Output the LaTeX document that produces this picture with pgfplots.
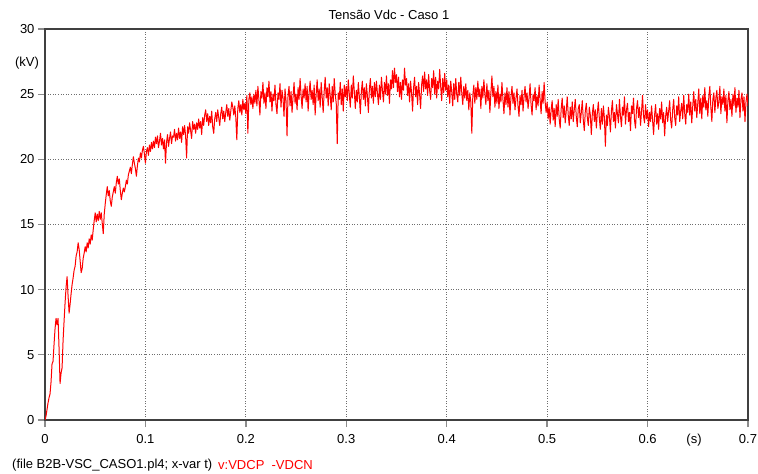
\documentclass[border=0pt]{standalone}
\usepackage{fontspec}
\setmainfont{Liberation Sans}
\usepackage{pgfplots}
\pgfplotsset{compat=1.18}

\definecolor{axisgray}{RGB}{64,64,64}
\definecolor{tickgray}{RGB}{140,140,140}
\definecolor{gridgray}{RGB}{110,110,110}

\begin{document}
\begin{tikzpicture}[font=\fontsize{13}{15}\selectfont]
\path[use as bounding box] (0,0) rectangle (758pt,474pt);

\begin{axis}[
    at={(45pt,54pt)}, anchor=south west,
    scale only axis, width=703pt, height=391pt,
    xmin=0, xmax=700, ymin=0, ymax=30,
    enlargelimits=false,
    xtick={0,100,...,700},
    xticklabels={0,0.1,0.2,0.3,0.4,0.5,0.6,0.7},
    ytick={0,5,...,30},
    /pgf/number format/assume math mode=true,
    tick pos=left, tick align=outside,
    major tick length=7pt,
    tick style={draw=tickgray, line width=1.3pt},
    axis line style={draw=axisgray, line width=1.1pt},
    grid=major,
    major grid style={draw=gridgray, line width=0.8pt, dash pattern=on 1pt off 1.6pt},
    ticklabel style={font=\fontsize{13}{15}\selectfont},
    xticklabel style={yshift=-4pt},
]
\addplot[color=red, line width=1pt, line join=round] table[row sep=\\] {
t v\\
0 0\\ 1 0.3\\ 2 0.8\\ 3 1.3\\ 4 1.7\\ 5 2.0\\ 6 2.9\\ 7 4.3\\ 8 4.5\\ 9 5.8\\
10 7.0\\ 11 7.8\\ 12 7.3\\ 13 7.8\\ 14 5.5\\ 15 2.8\\ 16 3.6\\ 17 4.0\\ 18 6.1\\ 19 7.6\\
20 9.0\\ 21 10.2\\ 22 11.0\\ 23 9.5\\ 24 8.2\\ 25 8.9\\ 26 9.7\\ 27 10.4\\ 28 10.9\\ 29 11.5\\
30 11.8\\ 31 12.6\\ 32 12.9\\ 33 13.6\\ 34 13.1\\ 35 12.2\\ 36 11.3\\ 37 11.6\\ 38 12.4\\ 39 12.8\\
40 13.3\\ 41 12.9\\ 42 13.6\\ 43 13.2\\ 44 13.9\\ 45 13.5\\ 46 14.2\\ 47 13.8\\ 48 14.6\\ 49 15.3\\
50 15.9\\ 51 15.2\\ 52 15.8\\ 53 15.3\\ 54 16.0\\ 55 15.4\\ 56 15.9\\ 57 15.1\\ 58 14.3\\ 59 15.8\\
60 16.6\\ 61 17.3\\ 62 17.9\\ 63 17.2\\ 64 17.6\\ 65 16.8\\ 66 16.4\\ 67 17.1\\ 68 17.5\\ 69 17.9\\
70 17.4\\ 71 18.2\\ 72 18.7\\ 73 18.1\\ 74 18.5\\ 75 17.6\\ 76 16.9\\ 77 17.4\\ 78 17.8\\ 79 17.5\\
80 17.9\\ 81 18.4\\ 82 18.1\\ 83 18.8\\ 84 19.1\\ 85 19.4\\ 86 18.9\\ 87 19.6\\ 88 20.2\\ 89 19.7\\
90 19.3\\ 91 18.7\\ 92 19.5\\ 93 20.1\\ 94 19.8\\ 95 20.5\\ 96 20.1\\ 97 20.7\\ 98 21.0\\ 99 20.4\\
100 19.7\\ 101 20.6\\ 102 20.9\\ 103 20.3\\ 104 21.1\\ 105 20.6\\ 106 21.3\\ 107 20.8\\ 108 21.4\\ 109 20.9\\
110 21.7\\ 111 21.2\\ 112 21.8\\ 113 20.9\\ 114 21.4\\ 115 22.0\\ 116 21.1\\ 117 21.6\\ 118 20.8\\ 119 21.5\\
120 19.7\\ 121 21.3\\ 122 21.9\\ 123 21.0\\ 124 21.6\\ 125 22.1\\ 126 21.2\\ 127 21.8\\ 128 21.7\\ 129 22.3\\
130 21.4\\ 131 22.0\\ 132 21.5\\ 133 22.4\\ 134 21.6\\ 135 22.1\\ 136 21.3\\ 137 22.5\\ 138 21.9\\ 139 22.6\\
140 21.8\\ 141 20.1\\ 142 22.5\\ 143 22.0\\ 144 22.8\\ 145 22.2\\ 146 21.6\\ 147 22.9\\ 148 22.3\\ 149 22.7\\
150 22.0\\ 151 22.8\\ 152 22.3\\ 153 23.1\\ 154 22.4\\ 155 22.9\\ 156 21.9\\ 157 23.2\\ 158 22.6\\ 159 23.4\\
160 23.8\\ 161 22.9\\ 162 23.5\\ 163 22.6\\ 164 23.3\\ 165 22.8\\ 166 23.7\\ 167 22.5\\ 168 22.0\\ 169 23.1\\
170 23.6\\ 171 22.9\\ 172 23.8\\ 173 23.2\\ 174 22.6\\ 175 23.5\\ 176 24.0\\ 177 23.1\\ 178 23.7\\ 179 22.9\\
180 23.6\\ 181 24.2\\ 182 23.3\\ 183 23.9\\ 184 23.0\\ 185 23.7\\ 186 24.4\\ 187 24.0\\ 188 23.4\\ 189 24.1\\
190 23.2\\ 191 21.5\\ 192 23.9\\ 193 24.5\\ 194 23.6\\ 195 24.2\\ 196 23.4\\ 197 24.6\\ 198 23.8\\ 199 24.3\\
200 23.5\\ 201 24.9\\ 202 22.0\\ 203 24.6\\ 204 25.1\\ 205 24.2\\ 206 24.8\\ 207 23.9\\ 208 25.0\\ 209 24.3\\
210 25.3\\ 211 24.1\\ 212 25.6\\ 213 24.6\\ 214 23.4\\ 215 25.2\\ 216 24.7\\ 217 25.9\\ 218 24.3\\ 219 25.1\\
220 23.9\\ 221 25.5\\ 222 24.8\\ 223 26.0\\ 224 24.4\\ 225 25.2\\ 226 23.7\\ 227 25.0\\ 228 24.5\\ 229 25.7\\
230 24.2\\ 231 23.5\\ 232 25.1\\ 233 24.6\\ 234 25.8\\ 235 24.0\\ 236 25.3\\ 237 24.7\\ 238 23.3\\ 239 25.4\\
240 24.5\\ 241 21.8\\ 242 24.9\\ 243 25.6\\ 244 24.1\\ 245 25.2\\ 246 23.6\\ 247 24.8\\ 248 25.9\\ 249 24.3\\
250 25.0\\ 251 23.8\\ 252 25.5\\ 253 24.6\\ 254 26.2\\ 255 24.9\\ 256 23.9\\ 257 25.4\\ 258 24.7\\ 259 25.8\\
260 24.4\\ 261 25.6\\ 262 23.7\\ 263 25.1\\ 264 26.0\\ 265 24.6\\ 266 25.3\\ 267 24.2\\ 268 25.7\\ 269 23.4\\
270 25.0\\ 271 26.1\\ 272 24.5\\ 273 25.4\\ 274 24.0\\ 275 25.9\\ 276 24.8\\ 277 23.6\\ 278 25.2\\ 279 26.3\\
280 24.7\\ 281 25.5\\ 282 24.1\\ 283 25.8\\ 284 24.9\\ 285 23.8\\ 286 25.6\\ 287 24.4\\ 288 26.2\\ 289 25.0\\
290 24.3\\ 291 21.2\\ 292 25.1\\ 293 24.6\\ 294 25.9\\ 295 24.2\\ 296 25.4\\ 297 23.7\\ 298 25.7\\ 299 24.8\\
300 25.6\\ 301 24.5\\ 302 26.1\\ 303 25.0\\ 304 24.0\\ 305 25.7\\ 306 24.7\\ 307 26.4\\ 308 25.2\\ 309 23.9\\
310 25.3\\ 311 24.4\\ 312 25.9\\ 313 24.8\\ 314 23.5\\ 315 25.2\\ 316 26.0\\ 317 24.6\\ 318 25.5\\ 319 24.1\\
320 25.8\\ 321 24.9\\ 322 23.6\\ 323 25.4\\ 324 26.2\\ 325 24.7\\ 326 25.6\\ 327 24.3\\ 328 25.9\\ 329 24.8\\
330 26.0\\ 331 25.1\\ 332 24.2\\ 333 25.7\\ 334 24.6\\ 335 26.3\\ 336 25.3\\ 337 24.4\\ 338 25.9\\ 339 25.0\\
340 26.4\\ 341 24.9\\ 342 25.8\\ 343 24.3\\ 344 26.1\\ 345 25.4\\ 346 26.8\\ 347 25.5\\ 348 27.0\\ 349 25.9\\
350 26.5\\ 351 25.2\\ 352 26.3\\ 353 24.8\\ 354 25.9\\ 355 24.6\\ 356 26.1\\ 357 25.3\\ 358 27.0\\ 359 25.7\\
360 26.2\\ 361 24.9\\ 362 25.8\\ 363 24.4\\ 364 26.0\\ 365 25.1\\ 366 23.7\\ 367 25.5\\ 368 26.3\\ 369 24.8\\
370 25.6\\ 371 24.2\\ 372 25.9\\ 373 25.0\\ 374 23.9\\ 375 25.7\\ 376 26.4\\ 377 25.2\\ 378 26.7\\ 379 25.4\\
380 26.1\\ 381 24.9\\ 382 26.5\\ 383 25.3\\ 384 24.6\\ 385 26.2\\ 386 25.5\\ 387 26.8\\ 388 25.0\\ 389 26.3\\
390 24.7\\ 391 26.0\\ 392 25.4\\ 393 26.9\\ 394 25.6\\ 395 24.5\\ 396 26.2\\ 397 25.1\\ 398 26.6\\ 399 25.3\\
400 26.1\\ 401 24.8\\ 402 25.7\\ 403 24.3\\ 404 26.0\\ 405 25.2\\ 406 24.1\\ 407 25.8\\ 408 24.6\\ 409 26.2\\
410 25.0\\ 411 24.4\\ 412 25.9\\ 413 24.9\\ 414 26.3\\ 415 25.1\\ 416 24.2\\ 417 25.6\\ 418 24.7\\ 419 25.8\\
420 24.5\\ 421 25.3\\ 422 23.8\\ 423 25.1\\ 424 24.4\\ 425 22.0\\ 426 24.9\\ 427 25.7\\ 428 24.3\\ 429 25.5\\
430 24.6\\ 431 26.0\\ 432 24.8\\ 433 25.4\\ 434 23.9\\ 435 25.6\\ 436 24.7\\ 437 26.1\\ 438 25.0\\ 439 24.2\\
440 25.8\\ 441 24.5\\ 442 25.3\\ 443 23.6\\ 444 25.1\\ 445 26.4\\ 446 24.8\\ 447 25.6\\ 448 24.0\\ 449 25.2\\
450 24.3\\ 451 25.7\\ 452 23.9\\ 453 25.0\\ 454 24.4\\ 455 25.9\\ 456 24.6\\ 457 23.5\\ 458 25.1\\ 459 24.2\\
460 25.5\\ 461 24.0\\ 462 25.2\\ 463 23.4\\ 464 24.8\\ 465 25.6\\ 466 24.3\\ 467 25.1\\ 468 23.8\\ 469 24.7\\
470 25.4\\ 471 24.1\\ 472 23.3\\ 473 24.9\\ 474 24.2\\ 475 25.3\\ 476 23.7\\ 477 24.8\\ 478 25.6\\ 479 24.4\\
480 25.1\\ 481 23.9\\ 482 24.7\\ 483 25.8\\ 484 24.2\\ 485 23.4\\ 486 25.0\\ 487 24.5\\ 488 25.5\\ 489 23.8\\
490 24.9\\ 491 24.1\\ 492 25.7\\ 493 24.6\\ 494 23.5\\ 495 25.2\\ 496 24.3\\ 497 25.9\\ 498 24.4\\ 499 23.6\\
500 24.4\\ 501 23.1\\ 502 24.0\\ 503 22.7\\ 504 23.8\\ 505 24.5\\ 506 23.0\\ 507 23.9\\ 508 22.5\\ 509 24.2\\
510 23.3\\ 511 24.6\\ 512 23.1\\ 513 22.4\\ 514 23.9\\ 515 24.7\\ 516 23.2\\ 517 24.1\\ 518 22.8\\ 519 23.7\\
520 24.8\\ 521 23.4\\ 522 22.6\\ 523 24.0\\ 524 23.1\\ 525 24.4\\ 526 22.9\\ 527 23.8\\ 528 24.6\\ 529 23.3\\
530 22.5\\ 531 23.9\\ 532 24.2\\ 533 22.8\\ 534 23.6\\ 535 24.5\\ 536 23.0\\ 537 22.2\\ 538 23.7\\ 539 24.3\\
540 23.2\\ 541 22.6\\ 542 24.0\\ 543 23.4\\ 544 21.9\\ 545 23.5\\ 546 24.2\\ 547 22.9\\ 548 23.8\\ 549 22.4\\
550 23.6\\ 551 24.4\\ 552 23.1\\ 553 22.3\\ 554 23.9\\ 555 22.7\\ 556 24.1\\ 557 23.2\\ 558 21.0\\ 559 23.4\\
560 22.6\\ 561 24.0\\ 562 23.3\\ 563 22.1\\ 564 23.7\\ 565 24.5\\ 566 22.9\\ 567 23.6\\ 568 22.4\\ 569 24.2\\
570 23.5\\ 571 22.8\\ 572 24.6\\ 573 23.3\\ 574 22.5\\ 575 24.0\\ 576 23.4\\ 577 24.8\\ 578 22.7\\ 579 23.8\\
580 24.3\\ 581 22.9\\ 582 23.6\\ 583 22.2\\ 584 24.1\\ 585 23.5\\ 586 24.7\\ 587 23.0\\ 588 22.4\\ 589 23.9\\
590 24.5\\ 591 23.2\\ 592 24.0\\ 593 22.6\\ 594 23.7\\ 595 24.9\\ 596 23.3\\ 597 22.8\\ 598 24.2\\ 599 23.1\\
600 23.8\\ 601 22.5\\ 602 23.6\\ 603 22.9\\ 604 24.1\\ 605 23.0\\ 606 21.9\\ 607 23.4\\ 608 24.2\\ 609 22.7\\
610 23.5\\ 611 22.3\\ 612 23.9\\ 613 23.1\\ 614 24.4\\ 615 22.8\\ 616 23.6\\ 617 21.8\\ 618 23.3\\ 619 24.0\\
620 22.9\\ 621 23.7\\ 622 24.5\\ 623 23.0\\ 624 22.4\\ 625 23.8\\ 626 24.6\\ 627 23.2\\ 628 22.6\\ 629 24.1\\
630 23.4\\ 631 24.8\\ 632 22.9\\ 633 23.7\\ 634 24.3\\ 635 23.1\\ 636 24.9\\ 637 23.5\\ 638 22.7\\ 639 24.2\\
640 23.6\\ 641 25.0\\ 642 23.4\\ 643 24.4\\ 644 22.8\\ 645 24.1\\ 646 25.2\\ 647 23.7\\ 648 24.6\\ 649 23.2\\
650 24.3\\ 651 25.4\\ 652 23.5\\ 653 24.7\\ 654 23.1\\ 655 24.9\\ 656 24.0\\ 657 25.5\\ 658 23.8\\ 659 24.5\\
660 23.3\\ 661 24.8\\ 662 25.6\\ 663 24.0\\ 664 22.9\\ 665 24.6\\ 666 25.1\\ 667 23.6\\ 668 24.7\\ 669 25.3\\
670 23.9\\ 671 24.4\\ 672 25.6\\ 673 23.5\\ 674 24.8\\ 675 24.2\\ 676 25.4\\ 677 23.7\\ 678 24.9\\ 679 22.8\\
680 24.5\\ 681 25.2\\ 682 23.8\\ 683 24.6\\ 684 23.3\\ 685 25.0\\ 686 24.1\\ 687 25.5\\ 688 23.6\\ 689 24.7\\
690 24.0\\ 691 25.3\\ 692 23.2\\ 693 24.6\\ 694 25.1\\ 695 23.7\\ 696 24.8\\ 697 22.9\\ 698 24.4\\ 699 25.0\\
700 24.1\\
};
\end{axis}

\node at (389pt,459pt) {Tensão Vdc - Caso 1};
\node at (27pt,411pt) {(kV)};
\node at (694pt,34pt) {(s)};
\node[anchor=west, inner sep=0pt] at (12pt,9pt) {(file B2B-VSC\_CASO1.pl4; x-var t)};
\node[anchor=west, inner sep=0pt, text=red] at (218pt,9pt) {v:VDCP\ \ -VDCN};
\end{tikzpicture}
\end{document}
